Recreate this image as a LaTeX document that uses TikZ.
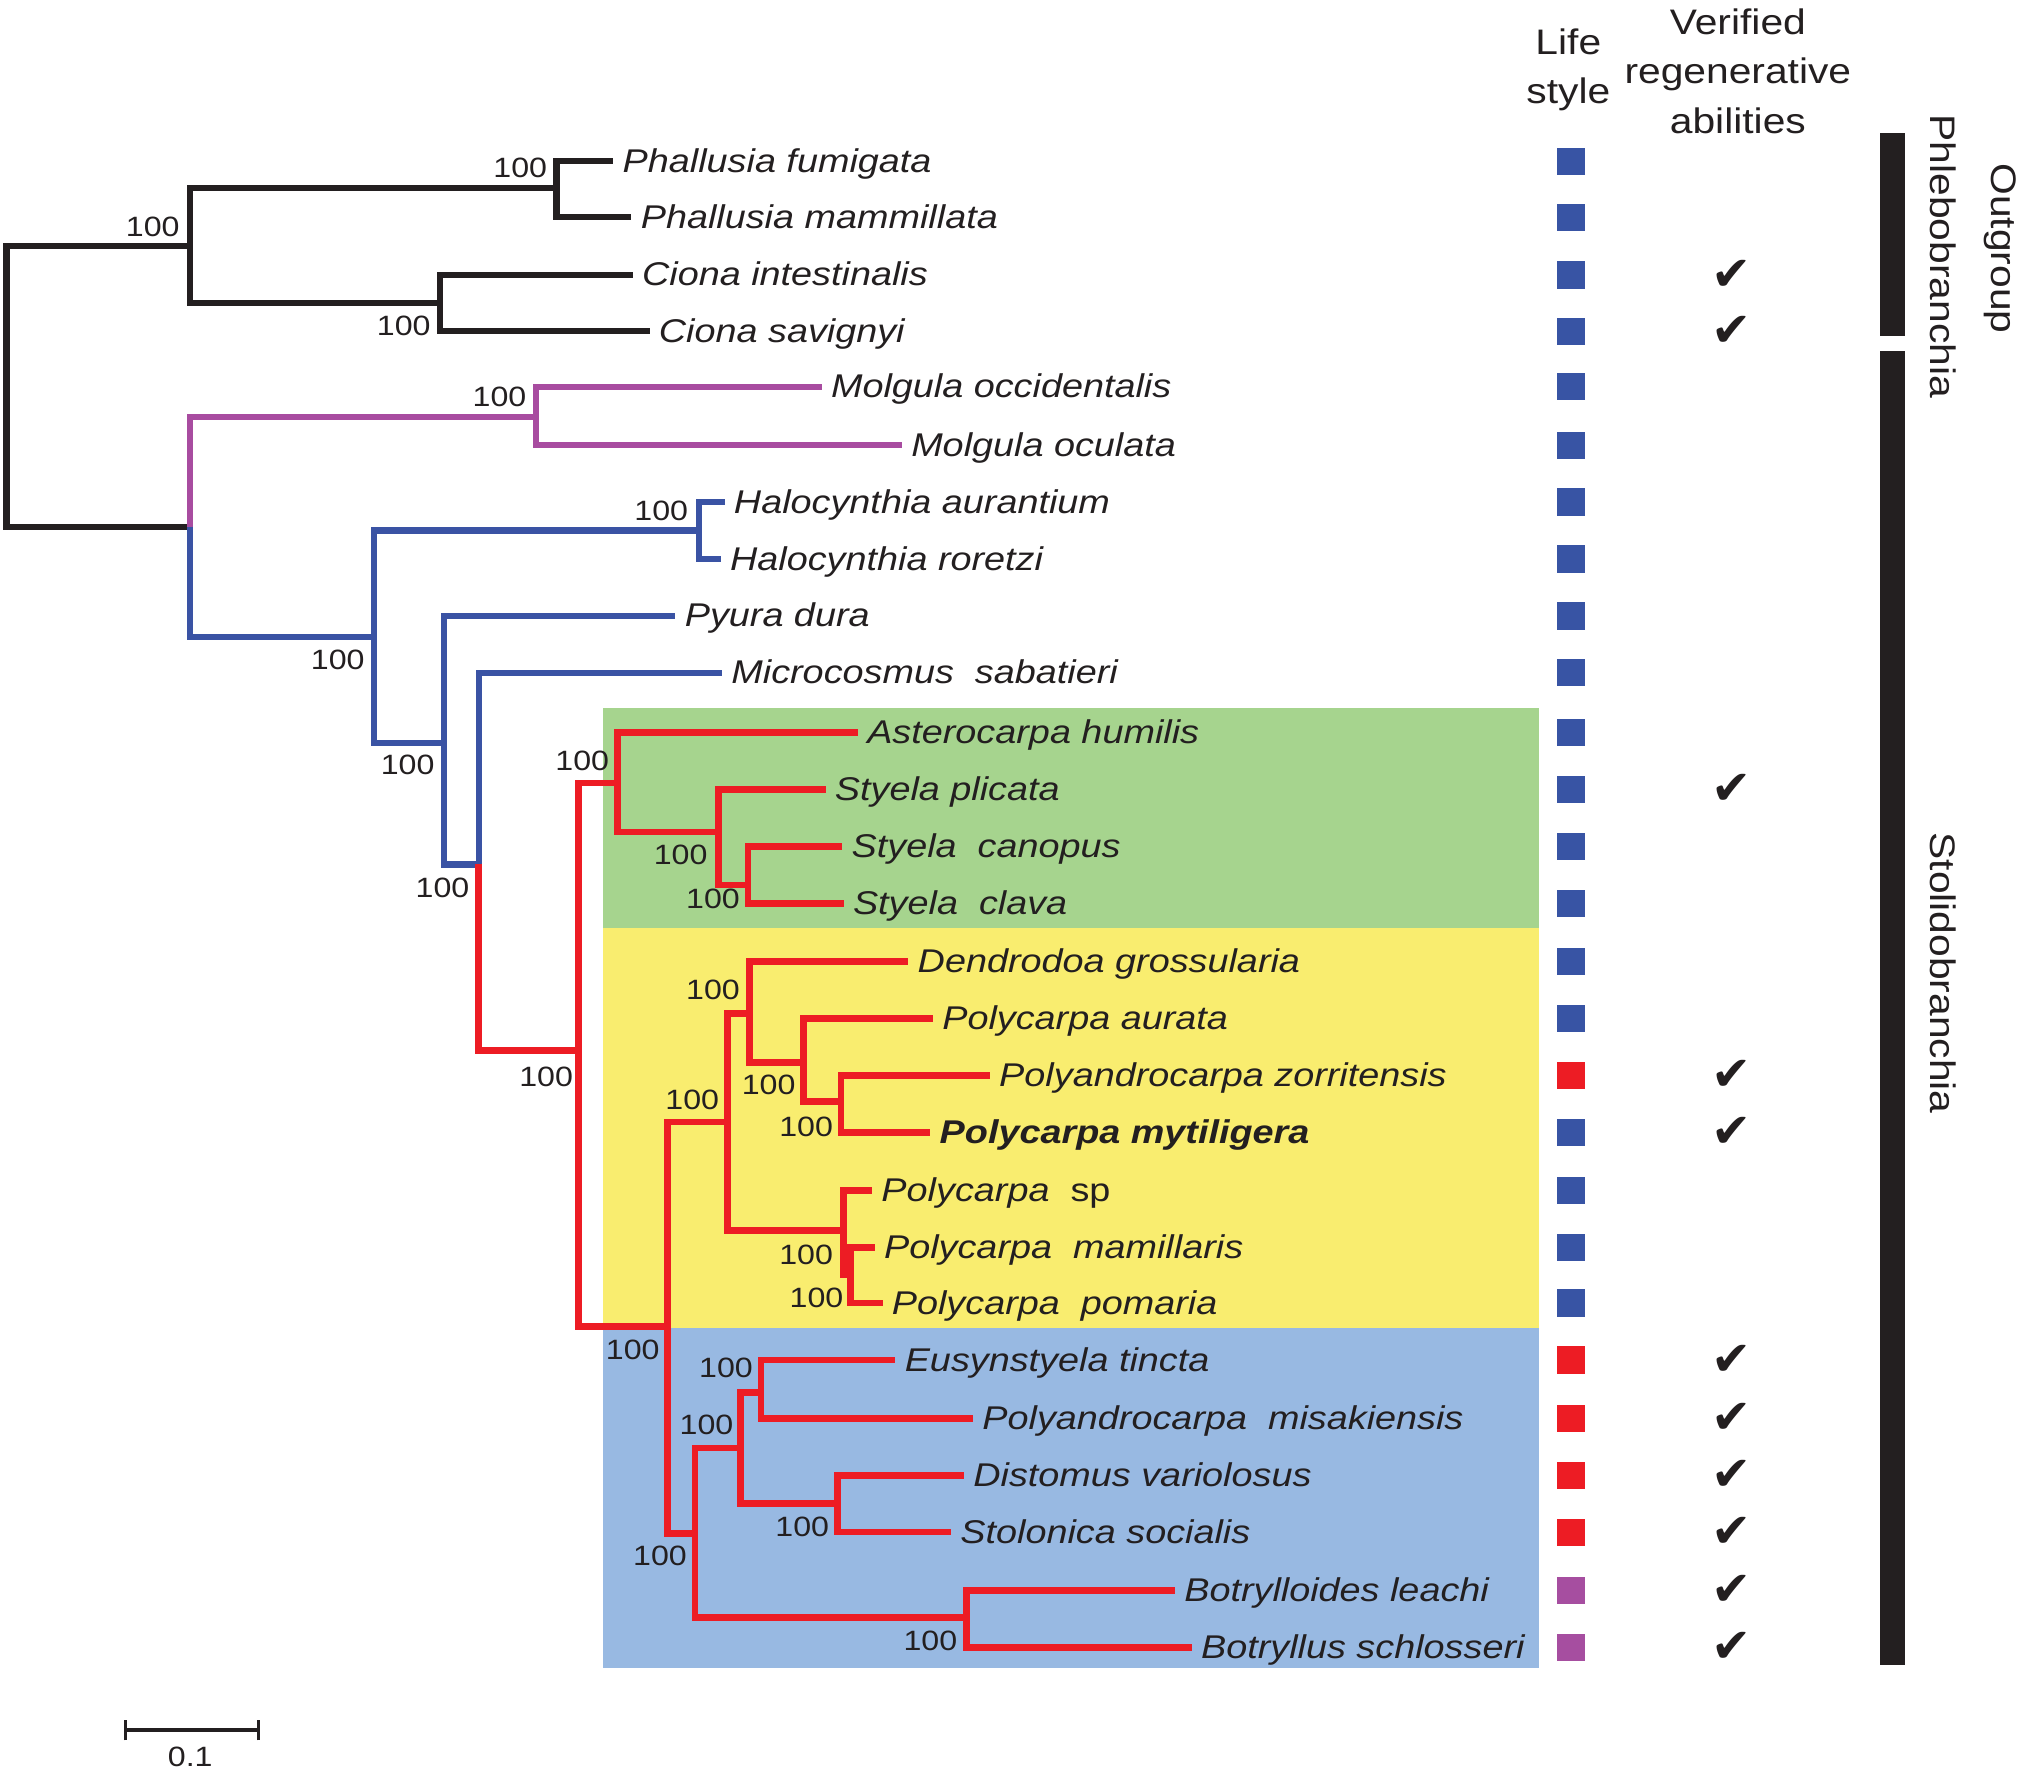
\documentclass[tikz,border=0pt]{standalone}
\usepackage{fontspec}
\setmainfont[FakeStretch=1.15]{Liberation Sans}
\newfontfamily\checkfont{DejaVu Sans}
\definecolor{treeblack}{RGB}{35,31,32}
\definecolor{treepurple}{RGB}{168,76,160}
\definecolor{treeblue}{RGB}{58,83,164}
\definecolor{treered}{RGB}{237,28,36}
\definecolor{boxgreen}{RGB}{166,212,142}
\definecolor{boxyellow}{RGB}{249,237,111}
\definecolor{boxblue}{RGB}{152,185,226}
\definecolor{lsblue}{RGB}{56,84,164}
\definecolor{lsred}{RGB}{237,28,36}
\definecolor{lspurple}{RGB}{166,78,160}

\begin{document}
\begin{tikzpicture}[x=1pt,y=-1pt]
\tikzset{branch/.style = {line width=4.8pt, line cap=butt, line join=miter}}
\tikzset{blk/.style = {branch, treeblack}}
\tikzset{pur/.style = {branch, treepurple}}
\tikzset{blu/.style = {branch, treeblue}}
\tikzset{rd/.style = {branch, treered, line width=5.2pt}}
\tikzset{taxon/.style = {anchor=west, inner xsep=7pt, inner ysep=0pt, text height=21pt, text depth=4pt, text=treeblack, font=\fontsize{25.4}{30}\selectfont\itshape}}
\tikzset{boot/.style = {inner sep=0pt, text=treeblack, font=\fontsize{21.6}{26}\selectfont}}
\tikzset{lsq/.style = {minimum size=21pt, inner sep=0pt}}
\tikzset{regen/.style = {inner sep=0pt, text=treeblack, font=\fontsize{37}{37}\selectfont\checkfont}}
\tikzset{head/.style = {align=center, text=treeblack, font=\fontsize{27.4}{38}\selectfont}}
\tikzset{clade/.style = {rotate=-90, inner sep=0pt, text=treeblack, font=\fontsize{27.4}{32}\selectfont}}
\def \sqx {1214}
\def \chx {1338}
\useasboundingbox (0,0) rectangle (1568,1370);
\fill[boxgreen] (466,547) rectangle (1189,717);
\fill[boxyellow] (466,717) rectangle (1189,1026);
\fill[boxblue] (466,1026) rectangle (1189,1289);
\coordinate (n0) at (5,298);
\coordinate (na) at (147,190);
\coordinate (nb) at (430,145);
\coordinate (nc) at (340,234);
\coordinate (nd) at (147,407);
\coordinate (ne) at (414,322);
\coordinate (nf) at (289,492);
\coordinate (ng) at (540,410);
\coordinate (nh) at (343,574);
\coordinate (ni) at (370,668);
\coordinate (nj) at (447,812);
\coordinate (nk) at (477,605);
\coordinate (nl) at (555,643);
\coordinate (nm) at (578,684);
\coordinate (nn) at (516,1025);
\coordinate (np) at (562,867);
\coordinate (nq) at (579,783);
\coordinate (nr) at (621,821);
\coordinate (ns) at (650,851);
\coordinate (nt) at (652,951);
\coordinate (nu) at (657,985);
\coordinate (no) at (537,1185);
\coordinate (nv) at (572,1119);
\coordinate (nw) at (588,1076);
\coordinate (nx) at (647,1162);
\coordinate (ny) at (747,1250);
\node[taxon](t1) at (474,124.5) {Phallusia fumigata};
\node[taxon](t2) at (488,168) {Phallusia mammillata};
\node[taxon](t3) at (489,212.5) {Ciona intestinalis};
\node[taxon](t4) at (502,256) {Ciona savignyi};
\node[taxon](t5) at (635,299) {Molgula occidentalis};
\node[taxon](t6) at (697,344) {Molgula oculata};
\node[taxon](t7) at (560,388) {Halocynthia aurantium};
\node[taxon](t8) at (557,432) {Halocynthia roretzi};
\node[taxon](t9) at (522,476) {Pyura dura};
\node[taxon](t10) at (558,520) {Microcosmus\ \ sabatieri};
\node[taxon](t11) at (663,566) {Asterocarpa humilis};
\node[taxon](t12) at (638,610) {Styela plicata};
\node[taxon](t13) at (651,654) {Styela\ \ canopus};
\node[taxon](t14) at (652,698) {Styela\ \ clava};
\node[taxon](t15) at (702,743) {Dendrodoa grossularia};
\node[taxon](t16) at (721,787) {Polycarpa aurata};
\node[taxon](t17) at (765,831) {Polyandrocarpa zorritensis};
\node[taxon](t18) at (719,875) {\bfseries Polycarpa mytiligera};
\node[taxon](t19) at (674,920) {Polycarpa\ \ \upshape sp};
\node[taxon](t20) at (676,964) {Polycarpa\ \ mamillaris};
\node[taxon](t21) at (682,1007) {Polycarpa\ \ pomaria};
\node[taxon](t22) at (692,1051) {Eusynstyela tincta};
\node[taxon](t23) at (752,1096) {Polyandrocarpa\ \ misakiensis};
\node[taxon](t24) at (745,1140) {Distomus variolosus};
\node[taxon](t25) at (735,1184) {Stolonica socialis};
\node[taxon](t26) at (908,1229) {Botrylloides leachi};
\node[taxon](t27) at (921,1273) {Botryllus schlosseri};
\draw[blk] (n0) |- (na);
\draw[blk] (n0) |- (nd);
\draw[blk] (na) |- (nb);
\draw[blk] (na) |- (nc);
\draw[blk] (nb) |- (t1.west);
\draw[blk] (nb) |- (t2.west);
\draw[blk] (nc) |- (t3.west);
\draw[blk] (nc) |- (t4.west);
\draw[pur] (nd) |- (ne);
\draw[pur] (ne) |- (t5.west);
\draw[pur] (ne) |- (t6.west);
\draw[blu] (nd) |- (nf);
\draw[blu] (nf) |- (ng);
\draw[blu] (nf) |- (nh);
\draw[blu] (ng) |- (t7.west);
\draw[blu] (ng) |- (t8.west);
\draw[blu] (nh) |- (t9.west);
\draw[blu] (nh) |- (ni);
\draw[blu] (ni) |- (t10.west);
\draw[rd] (ni) |- (nj);
\draw[rd] (nj) |- (nk);
\draw[rd] (nj) |- (nn);
\draw[rd] (nk) |- (t11.west);
\draw[rd] (nk) |- (nl);
\draw[rd] (nl) |- (t12.west);
\draw[rd] (nl) |- (nm);
\draw[rd] (nm) |- (t13.west);
\draw[rd] (nm) |- (t14.west);
\draw[rd] (nn) |- (np);
\draw[rd] (nn) |- (no);
\draw[rd] (np) |- (nq);
\draw[rd] (np) |- (nt);
\draw[rd] (nq) |- (t15.west);
\draw[rd] (nq) |- (nr);
\draw[rd] (nr) |- (t16.west);
\draw[rd] (nr) |- (ns);
\draw[rd] (ns) |- (t17.west);
\draw[rd] (ns) |- (t18.west);
\draw[rd] (nt) |- (t19.west);
\draw[rd] (nt) |- (nu);
\draw[rd] (nu) |- (t20.west);
\draw[rd] (nu) |- (t21.west);
\draw[rd] (no) |- (nv);
\draw[rd] (no) |- (ny);
\draw[rd] (nv) |- (nw);
\draw[rd] (nv) |- (nx);
\draw[rd] (nw) |- (t22.west);
\draw[rd] (nw) |- (t23.west);
\draw[rd] (nx) |- (t24.west);
\draw[rd] (nx) |- (t25.west);
\draw[rd] (ny) |- (t26.west);
\draw[rd] (ny) |- (t27.west);
\node[boot](ba) at (118,175) {100};
\node[boot](bb) at (402,130) {100};
\node[boot](bc) at (312,252) {100};
\node[boot](be) at (386,307) {100};
\node[boot](bf) at (261,510) {100};
\node[boot](bg) at (511,395) {100};
\node[boot](bh) at (315,591) {100};
\node[boot](bi) at (342,686) {100};
\node[boot](bj) at (422,832) {100};
\node[boot](bk) at (450,588) {100};
\node[boot](bl) at (526,661) {100};
\node[boot](bm) at (551,695) {100};
\node[boot](bn) at (489,1043) {100};
\node[boot](bp) at (535,850) {100};
\node[boot](bq) at (551,765) {100};
\node[boot](br) at (594,838) {100};
\node[boot](bs) at (623,871) {100};
\node[boot](bt) at (623,970) {100};
\node[boot](bu) at (631,1003) {100};
\node[boot](bo) at (510,1202) {100};
\node[boot](bv) at (546,1101) {100};
\node[boot](bw) at (561,1057) {100};
\node[boot](bx) at (620,1180) {100};
\node[boot](by) at (719,1268) {100};
\node[head](hlife) at (1212,54) {Life\\style};
\node[head](hregen) at (1343,55) {Verified\\regenerative\\abilities};
\node[lsq, fill=lsblue](s1) at (\sqx,124.5) {};
\node[lsq, fill=lsblue](s2) at (\sqx,168) {};
\node[lsq, fill=lsblue](s3) at (\sqx,212.5) {};
\node[lsq, fill=lsblue](s4) at (\sqx,256) {};
\node[lsq, fill=lsblue](s5) at (\sqx,299) {};
\node[lsq, fill=lsblue](s6) at (\sqx,344) {};
\node[lsq, fill=lsblue](s7) at (\sqx,388) {};
\node[lsq, fill=lsblue](s8) at (\sqx,432) {};
\node[lsq, fill=lsblue](s9) at (\sqx,476) {};
\node[lsq, fill=lsblue](s10) at (\sqx,520) {};
\node[lsq, fill=lsblue](s11) at (\sqx,566) {};
\node[lsq, fill=lsblue](s12) at (\sqx,610) {};
\node[lsq, fill=lsblue](s13) at (\sqx,654) {};
\node[lsq, fill=lsblue](s14) at (\sqx,698) {};
\node[lsq, fill=lsblue](s15) at (\sqx,743) {};
\node[lsq, fill=lsblue](s16) at (\sqx,787) {};
\node[lsq, fill=lsred](s17) at (\sqx,831) {};
\node[lsq, fill=lsblue](s18) at (\sqx,875) {};
\node[lsq, fill=lsblue](s19) at (\sqx,920) {};
\node[lsq, fill=lsblue](s20) at (\sqx,964) {};
\node[lsq, fill=lsblue](s21) at (\sqx,1007) {};
\node[lsq, fill=lsred](s22) at (\sqx,1051) {};
\node[lsq, fill=lsred](s23) at (\sqx,1096) {};
\node[lsq, fill=lsred](s24) at (\sqx,1140) {};
\node[lsq, fill=lsred](s25) at (\sqx,1184) {};
\node[lsq, fill=lspurple](s26) at (\sqx,1229) {};
\node[lsq, fill=lspurple](s27) at (\sqx,1273) {};
\node[regen](c3) at (\chx,212.5) {✔};
\node[regen](c4) at (\chx,256) {✔};
\node[regen](c12) at (\chx,610) {✔};
\node[regen](c17) at (\chx,831) {✔};
\node[regen](c18) at (\chx,875) {✔};
\node[regen](c22) at (\chx,1051) {✔};
\node[regen](c23) at (\chx,1096) {✔};
\node[regen](c24) at (\chx,1140) {✔};
\node[regen](c25) at (\chx,1184) {✔};
\node[regen](c26) at (\chx,1229) {✔};
\node[regen](c27) at (\chx,1273) {✔};
\fill[treeblack] (1453,103) rectangle (1472,260);
\fill[treeblack] (1453,271) rectangle (1472,1287);
\node[clade](gout) at (1546,192) {Outgroup};
\node[clade](gphl) at (1502,198) {Phlebobranchia};
\node[clade](gsto) at (1502,752) {Stolidobranchia};
\coordinate (sb1) at (97,1337);
\coordinate (sb2) at (200,1337);
\draw[treeblack, line width=2.6pt] (sb1) -- (sb2);
\draw[treeblack, line width=2.6pt] ([yshift=-8pt]sb1) -- ([yshift=8pt]sb1);
\draw[treeblack, line width=2.6pt] ([yshift=-8pt]sb2) -- ([yshift=8pt]sb2);
\node[boot](sbl) at (147,1358) {0.1};
\end{tikzpicture}
\end{document}
